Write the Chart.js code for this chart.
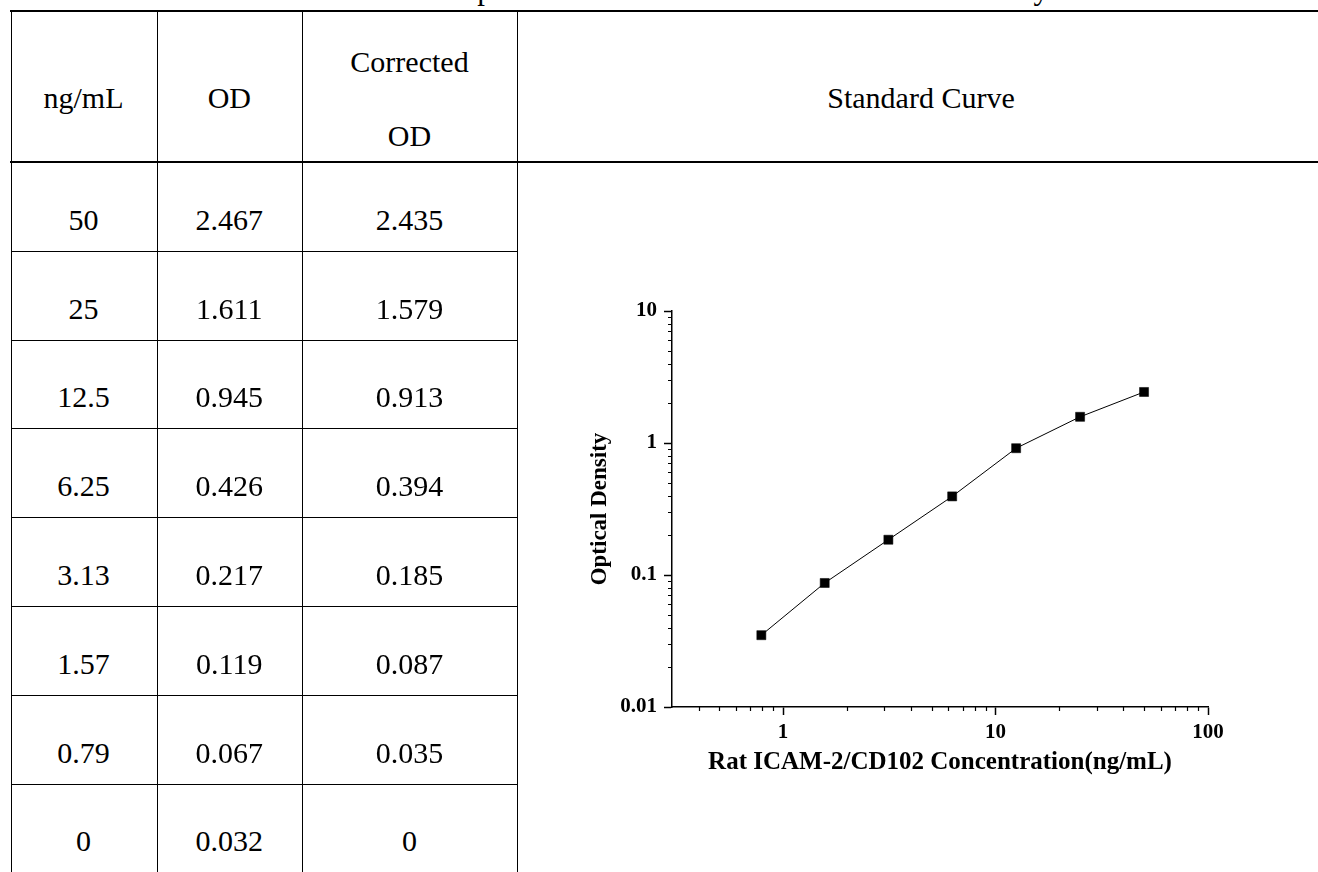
<!DOCTYPE html>
<html>
<head>
<meta charset="utf-8">
<title>Standard Curve</title>
<script src="https://cdn.jsdelivr.net/npm/chart.js@4.4.1/dist/chart.umd.min.js"></script>
<style>
    html, body { margin: 0; padding: 0; background: #fff; }
    #page { position: relative; width: 1318px; height: 872px; overflow: hidden; background: #fff; }
    .txt { position: absolute; white-space: nowrap; color: #000; }
    .ln { position: absolute; background: #000; }
    #curve { position: absolute; left: 586px; top: 280px; }
</style>
</head>
<body>
<div id="page">
    <canvas id="curve" width="652" height="498" style="width:652px;height:498px"></canvas>
</div>
<script>
// data
const concentrations = [50, 25, 12.5, 6.25, 3.13, 1.57, 0.79, 0];
const odValues = [2.467, 1.611, 0.945, 0.426, 0.217, 0.119, 0.067, 0.032];
const correctedOd = [2.435, 1.579, 0.913, 0.394, 0.185, 0.087, 0.035, 0];

const headerLabels = ['ng/mL', 'OD', ['Corrected', 'OD'], 'Standard Curve'];
const pageTitle = 'Example of the standard curve for this ELISA assay';

const xTickValues = [1, 10, 100];
const xTickLabels = ['1', '10', '100'];
const yTickValues = [0.01, 0.1, 1, 10];
const yTickLabels = ['0.01', '0.1', '1', '10'];
const xMinorTicks = [0.4, 0.5, 0.6, 0.7, 0.8, 0.9, 2, 3, 4, 5, 6, 7, 8, 9, 20, 30, 40, 50, 60, 70, 80, 90];
const yMinorTicks = [0.02, 0.03, 0.04, 0.05, 0.06, 0.07, 0.08, 0.09, 0.2, 0.3, 0.4, 0.5, 0.6, 0.7, 0.8, 0.9, 2, 3, 4, 5, 6, 7, 8, 9];

const serif = '"Liberation Serif", "Times New Roman", Times, serif';

// start: table
const page = document.getElementById('page');

function addLine(x, y, w, h) {
    const d = document.createElement('div');
    d.className = 'ln';
    d.style.left = x + 'px';
    d.style.top = y + 'px';
    d.style.width = w + 'px';
    d.style.height = h + 'px';
    page.appendChild(d);
}

function addText(text, cx, baseline, size, align) {
    const d = document.createElement('div');
    d.className = 'txt';
    d.textContent = text;
    d.style.fontFamily = serif;
    d.style.fontSize = size + 'px';
    d.style.lineHeight = size + 'px';
    d.style.top = (baseline - size * 0.8375) + 'px';
    if (align === 'left') {
        d.style.left = cx + 'px';
    } else {
        d.style.left = (cx - 300) + 'px';
        d.style.width = '600px';
        d.style.textAlign = 'center';
    }
    page.appendChild(d);
}

addText(pageTitle, 405, -1, 31, 'left');

const colEdges = [10.5, 156.5, 302, 516.5];
const colCenters = [83.5, 229.3, 409.5, 921];
const rowTop0 = 162.5;
const rowH = 88.8;

// outer rules
addLine(9.5, 10, 1320, 2);
addLine(9.5, 161, 1320, 2);
colEdges.forEach(x => addLine(x, 10, 1, 870));

// header
headerLabels.forEach((label, i) => {
    if (Array.isArray(label)) {
        addText(label[0], colCenters[i], 72, 30);
        addText(label[1], colCenters[i], 146, 30);
    } else {
        addText(label, colCenters[i], 108, 30);
    }
});

// rows
concentrations.forEach((c, i) => {
    const top = rowTop0 + i * rowH;
    if (i > 0) addLine(10.5, top - 0.5, 506.5, 1);
    const base = top + 67.5;
    addText(String(c), colCenters[0], base, 30);
    addText(String(odValues[i]), colCenters[1], base, 30);
    addText(String(correctedOd[i]), colCenters[2], base, 30);
});
// end: table

// start: chart
const points = [];
concentrations.forEach((c, i) => {
    if (c > 0) points.push({ x: c, y: correctedOd[i] });
});

const minorTicksPlugin = {
    id: 'minorTicks',
    afterDraw(chart) {
        const ctx = chart.ctx;
        const xs = chart.scales.x;
        const ys = chart.scales.y;
        const area = chart.chartArea;
        ctx.save();
        ctx.strokeStyle = '#000';
        ctx.lineWidth = 1.2;
        ctx.beginPath();
        xMinorTicks.forEach(v => {
            const px = Math.round(xs.getPixelForValue(v)) + 0.5;
            ctx.moveTo(px, area.bottom);
            ctx.lineTo(px, area.bottom + 4);
        });
        yMinorTicks.forEach(v => {
            const py = Math.round(ys.getPixelForValue(v)) + 0.5;
            ctx.moveTo(area.left, py);
            ctx.lineTo(area.left - 4, py);
        });
        ctx.stroke();
        ctx.restore();
    }
};

Chart.defaults.font.family = serif;
Chart.defaults.color = '#000';

new Chart(document.getElementById('curve'), {
    type: 'scatter',
    data: {
        datasets: [{
            data: points,
            showLine: true,
            tension: 0,
            borderColor: '#000',
            borderWidth: 1,
            pointStyle: 'rect',
            pointRadius: 6.4,
            pointHoverRadius: 6.4,
            pointBackgroundColor: '#000',
            pointBorderColor: '#000',
            pointBorderWidth: 0.5
        }]
    },
    options: {
        responsive: false,
        animation: false,
        events: [],
        layout: { padding: { left: 0, top: 31, right: 30, bottom: 0 } },
        plugins: {
            legend: { display: false },
            tooltip: { enabled: false }
        },
        scales: {
            x: {
                type: 'logarithmic',
                min: 0.3,
                max: 100,
                bounds: 'data',
                afterBuildTicks: scale => { scale.ticks = xTickValues.map(v => ({ value: v })); },
                afterFit: scale => { scale.height = 71; },
                ticks: {
                    autoSkip: false,
                    maxRotation: 0,
                    padding: 5,
                    font: { size: 21, weight: 'bold' },
                    callback: (v) => xTickLabels[xTickValues.indexOf(v)]
                },
                grid: { drawOnChartArea: false, drawTicks: true, tickLength: 8, tickColor: '#000', tickWidth: 1.5 },
                border: { display: true, color: '#000', width: 1.5 },
                title: {
                    display: true,
                    text: 'Rat ICAM-2/CD102 Concentration(ng/mL)',
                    font: { size: 25, weight: 'bold', lineHeight: 1.2 },
                    padding: 0
                }
            },
            y: {
                type: 'logarithmic',
                min: 0.01,
                max: 10,
                bounds: 'data',
                afterBuildTicks: scale => { scale.ticks = yTickValues.map(v => ({ value: v })); },
                afterFit: scale => { scale.width = 86; },
                ticks: {
                    autoSkip: false,
                    padding: 7,
                    font: { size: 21, weight: 'bold' },
                    callback: (v) => yTickLabels[yTickValues.indexOf(v)]
                },
                grid: { drawOnChartArea: false, drawTicks: true, tickLength: 8, tickColor: '#000', tickWidth: 1.5 },
                border: { display: true, color: '#000', width: 1.5 },
                title: {
                    display: true,
                    text: 'Optical Density',
                    font: { size: 23, weight: 'bold', lineHeight: 1.2 },
                    padding: 0
                }
            }
        }
    },
    plugins: [minorTicksPlugin]
});
// end: chart
</script>
</body>
</html>
